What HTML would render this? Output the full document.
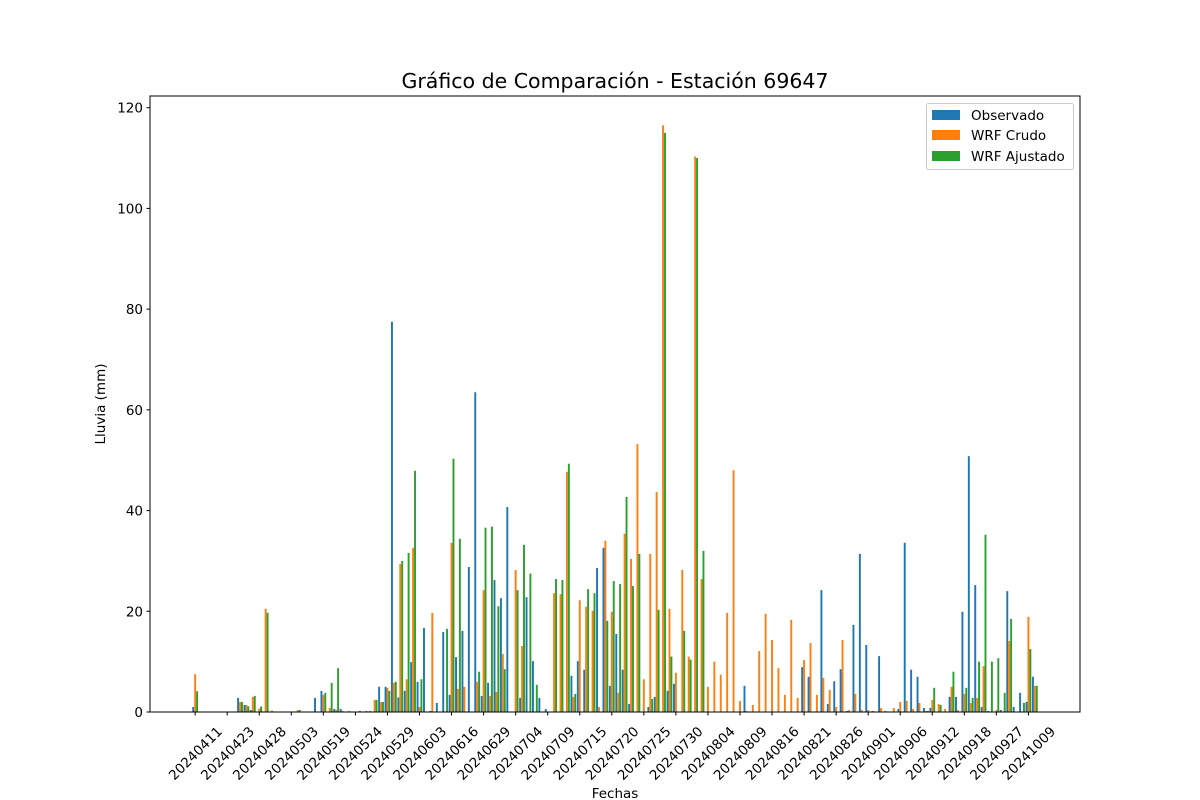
<!DOCTYPE html>
<html><head><meta charset="utf-8"><style>
html,body{margin:0;padding:0;background:#fff;}
svg{display:block;font-family:"DejaVu Sans","Liberation Sans",sans-serif;}
</style></head><body>
<svg id="chart" width="1200" height="800" viewBox="0 0 1200 800" xmlns="http://www.w3.org/2000/svg">
<text x="615" y="88" font-size="20.5" text-anchor="middle" fill="#000">Gráfico de Comparación - Estación 69647</text>
<text x="0" y="0" font-size="13.5" text-anchor="middle" transform="translate(105,404) rotate(-90)">Lluvia (mm)</text>
<text x="615" y="798" font-size="13.5" text-anchor="middle">Fechas</text>
<g id="bars"></g>
<g id="yaxis"></g>
<g id="xaxis"></g>
<rect x="150" y="96" width="930" height="616" fill="none" stroke="#000" stroke-width="1"/>
<g>
<rect x="926.5" y="103.5" width="147" height="66" rx="2" fill="#fff" fill-opacity="0.8" stroke="#ccc"/>
<g><rect x="932" y="110" width="28" height="10" fill="#1f77b4"/><text x="971" y="120" font-size="13.5">Observado</text></g>
<g><rect x="932" y="130" width="28" height="10" fill="#ff7f0e"/><text x="971" y="140" font-size="13.5">WRF Crudo</text></g>
<g><rect x="932" y="151" width="28" height="10" fill="#2ca02c"/><text x="971" y="161" font-size="13.5">WRF Ajustado</text></g>
</g>
</svg>
<script>
const tickLabels=["20240411","20240423","20240428","20240503","20240519","20240524","20240529","20240603","20240616","20240629","20240704","20240709","20240715","20240720","20240725","20240730","20240804","20240809","20240816","20240821","20240826","20240901","20240906","20240912","20240918","20240927","20241009"];
const tickEvery=5;
const observado=[1,0,0,0,0,0,0,2.8,1.4,0.4,0,0,0,0,0,0,0,0,0,2.8,4.2,0,0.6,0.6,0,0,0.2,0.2,0,5,5,77.5,2.9,4.2,9.9,6,16.7,0.2,1.8,15.9,3.4,10.9,16.1,28.8,63.5,3.2,5.8,26.2,22.6,40.7,0,2.8,22.8,10.1,2.8,0.6,0,0,0,7.2,10.1,8.4,0,28.6,32.6,5.2,15.5,8.4,1.6,0,0,1,3,0,4.2,5.6,0,0,0,0,0,0,0,0,0,0,5.2,0,0,0,0,0,0,0,0,8.9,7,0,24.2,1.6,6.1,8.5,0.2,17.3,31.4,13.3,0.2,11.1,0.2,0,0.6,33.6,8.4,7,0.8,0.8,0,0,3,3,19.9,50.8,25.2,1,0.2,0,0.4,24,1,3.8,2,7];
const wrfCrudo=[7.5,0,0,0,0,0,0,2,1.4,3,0.7,20.5,0.3,0,0,0,0.4,0,0,0,3.4,0.8,0.4,0.2,0.2,0,0,0,2.4,2,4.8,5.8,29.4,6.5,32.6,1,0,19.7,0,0,33.6,4.6,5,0,6,24.2,3.2,4,11.5,0,28.2,13.1,0,0,0,0,23.6,23.4,47.7,3,22.2,20.9,20.1,1,34,19.9,3.8,35.4,30.4,53.2,6.5,31.4,43.7,116.5,20.5,7.8,28.2,11,110.3,26.4,5,10,7.4,19.7,48,2.2,0.2,1.4,12.1,19.5,14.3,8.7,3.4,18.3,2.8,10.3,13.7,3.4,6.8,4.4,1,14.3,0.4,3.6,0.4,0.4,0,0.8,0,0.8,2,2.2,0.6,1.8,0.2,2.4,1.6,0.6,5,0.4,3.6,1.8,2.8,9.1,0,0.4,0,14.1,0,0,18.9,5.2];
const wrfAjustado=[4.1,0,0,0,0,0,0,2,1.1,3.2,1.1,19.7,0,0,0,0,0.4,0,0,0,3.8,5.8,8.7,0,0,0,0,0.2,2.4,2,4.2,6,30,31.6,47.9,6.5,0,0,0,16.5,50.3,34.4,0,0,8,36.6,36.8,21,8.5,0,24.2,33.2,27.5,5.4,0,0,26.4,26.2,49.3,3.6,0,24.4,23.6,0,18.1,26,25.4,42.7,25,31.4,0,2.6,20.3,115,11,0,16.1,10.4,110,32,0,0,0,0,0,0,0,0,0,0,0,0,0,0,0,0,0,0,0,0,0,0,0,0,0,0,0,0,0,0,0,0,0,0,0.2,4.8,1.4,0,8,0,4.8,2.8,10,35.2,10,10.7,3.8,18.5,0,1.8,12.5,5.2];
const yTicks=[0,20,40,60,80,100,120];

const NS="http://www.w3.org/2000/svg";
const L=150,R=1080,T=96,B=712;
const N=observado.length;
const bw=0.3;
const span=(N-1)+3*bw;
const xMin=-1.5*bw-0.05*span, xMax=(N-1)+1.5*bw+0.05*span;
function xs(v){return L+(v-xMin)/(xMax-xMin)*(R-L);}
const yMax=Math.max(...observado,...wrfCrudo,...wrfAjustado)*1.05;
function ys(v){return B-v/yMax*(B-T);}
const series=[[observado,"#1f77b4",-bw,"obs"],[wrfCrudo,"#ff7f0e",0,"crudo"],[wrfAjustado,"#2ca02c",bw,"ajustado"]];
const gb=document.getElementById("bars");
series.forEach(([vals,color,off,key])=>{
  vals.forEach((v,i)=>{
    if(v<=0)return;
    const r=document.createElementNS(NS,"rect");
    const x0=xs(i+off-bw/2),x1=xs(i+off+bw/2);
    r.setAttribute("x",x0);r.setAttribute("width",x1-x0);
    r.setAttribute("y",ys(v));r.setAttribute("height",ys(0)-ys(v));
    r.setAttribute("fill",color);
    
    
    gb.appendChild(r);
  });
});
const gy=document.getElementById("yaxis");
yTicks.forEach(t=>{
  const y=ys(t);
  const ln=document.createElementNS(NS,"line");
  ln.setAttribute("x1",L-3.5);ln.setAttribute("x2",L);ln.setAttribute("y1",y);ln.setAttribute("y2",y);ln.setAttribute("stroke","#000");
  
  
  gy.appendChild(ln);
  const tx=document.createElementNS(NS,"text");
  tx.setAttribute("x",L-7);tx.setAttribute("y",y+5);tx.setAttribute("font-size","13.5");tx.setAttribute("text-anchor","end");
  tx.textContent=t;
  
  
  gy.appendChild(tx);
});
const gx=document.getElementById("xaxis");
tickLabels.forEach((lab,k)=>{
  const x=xs(k*tickEvery);
  const ln=document.createElementNS(NS,"line");
  ln.setAttribute("x1",x);ln.setAttribute("x2",x);ln.setAttribute("y1",B);ln.setAttribute("y2",B+3.5);ln.setAttribute("stroke","#000");
  
  
  gx.appendChild(ln);
  const tx=document.createElementNS(NS,"text");
  tx.setAttribute("x",0);tx.setAttribute("y",5);tx.setAttribute("font-size","13.5");tx.setAttribute("text-anchor","middle");
  tx.setAttribute("transform","translate("+x+","+(B+41)+") rotate(-45)");
  tx.textContent=lab;
  
  
  gx.appendChild(tx);
});
</script>
</body></html>
